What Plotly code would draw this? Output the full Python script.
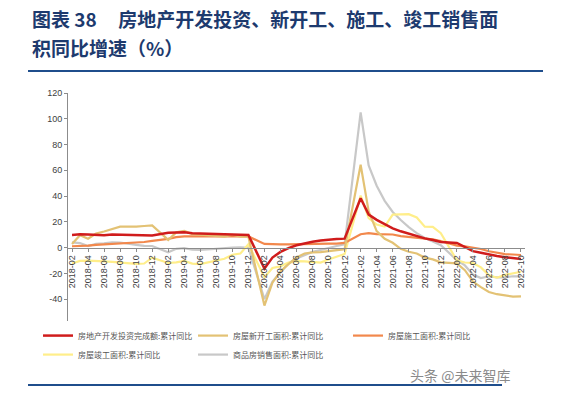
import plotly.graph_objects as go

months = []
for yr in [2018, 2019, 2020, 2021, 2022]:
    first = 2 if yr == 2018 else 1
    last = 10 if yr == 2022 else 12
    for m in range(first, last + 1):
        months.append(f"{yr}-{m:02d}")

N = None  # January: no cumulative figure published
invest = [9.9, 10.4, 10.3, 10.2, 9.7, 10.2, 10.1, 9.9, 9.7, 9.7, 9.5,
          N, 11.6, 11.8, 11.9, 11.2, 10.9, 10.6, 10.5, 10.5, 10.3, 10.2, 9.9,
          N, -16.3, -7.7, -3.3, -0.3, 1.9, 3.4, 4.6, 5.6, 6.3, 6.8, 7.0,
          N, 38.3, 25.6, 21.6, 18.3, 15.0, 12.7, 10.9, 8.8, 7.2, 6.0, 4.4,
          N, 3.7, 0.7, -2.7, -4.0, -5.4, -6.4, -7.4, -8.0, -8.8]
new_start = [2.9, 9.7, 7.0, 11.0, 12.5, 14.4, 16.3, 16.4, 16.3, 16.8, 17.2,
             N, 6.0, 11.9, 13.1, 10.5, 10.1, 9.5, 8.9, 8.6, 10.0, 8.6, 8.5,
             N, -44.9, -27.2, -18.4, -12.8, -7.6, -4.5, -3.6, -3.4, -2.6, -2.0, -1.2,
             N, 64.3, 28.2, 12.8, 6.9, 3.8, -0.9, -3.2, -4.5, -7.7, -9.1, -11.4,
             N, -12.2, -17.5, -26.3, -30.6, -34.4, -36.1, -37.2, -38.0, -37.8]
under_constr = [1.1, 1.2, 1.6, 2.2, 2.6, 2.9, 3.3, 3.4, 3.9, 4.4, 5.2,
                N, 6.8, 8.2, 8.8, 8.8, 8.8, 9.0, 8.8, 8.7, 9.0, 8.7, 8.7,
                N, 2.9, 2.6, 2.5, 2.6, 2.6, 2.8, 3.1, 3.1, 3.1, 3.2, 3.7,
                N, 10.4, 11.2, 10.5, 10.1, 10.2, 9.0, 8.4, 7.9, 7.1, 6.4, 5.2,
                N, 1.6, 1.0, -0.1, -1.0, -2.8, -3.7, -5.0, -5.3, -5.7]
completed = [-12.3, -10.3, -10.1, -10.1, -10.6, -11.0, -11.6, -12.3, -12.5, -12.3, -7.8,
             N, -11.9, -11.4, -10.3, -12.4, -12.7, -11.3, -10.0, -8.6, -5.5, -4.5, 2.6,
             N, -22.9, -15.8, -14.5, -11.6, -10.5, -10.6, -11.2, -11.6, -9.2, -7.3, -4.9,
             N, 40.4, 22.9, 17.9, 16.4, 25.7, 25.7, 26.0, 23.4, 16.3, 16.2, 11.2,
             N, -9.8, -11.5, -11.9, -15.3, -21.5, -23.3, -21.1, -19.9, -18.7]
sales = [4.1, 3.6, 1.3, 2.9, 3.3, 4.2, 4.0, 2.9, 2.2, 1.4, 1.3,
         N, -3.6, -0.9, -0.3, -1.6, -1.8, -1.3, -0.6, -0.1, 0.1, 0.2, -0.1,
         N, -39.9, -26.3, -19.3, -12.3, -8.4, -5.8, -3.3, -1.8, 0.0, 1.3, 2.6,
         N, 104.9, 63.8, 48.1, 36.3, 27.7, 21.5, 15.9, 11.3, 7.5, 4.8, 1.9,
         N, -9.6, -13.8, -20.9, -23.6, -22.2, -23.1, -23.0, -22.2, -22.3]

series_names = ["房地产开发投资完成额:累计同比", "房屋新开工面积:累计同比", "房屋施工面积:累计同比",
                "房屋竣工面积:累计同比", "商品房销售面积:累计同比"]
x_tick_labels = months[::2]
y_ticks = [-60, -40, -20, 0, 20, 40, 60, 80, 100, 120]

colors = ["#d01c1c", "#e3c274", "#f2884c", "#ffee8a", "#c8c8c8"]
widths = [2.5, 2.2, 2.2, 2.2, 2.2]
data = [invest, new_start, under_constr, completed, sales]

fig = go.Figure()
for i in [4, 3, 2, 1, 0]:  # red drawn last (on top)
    fig.add_trace(go.Scatter(x=months, y=data[i], mode="lines", name=series_names[i],
                             connectgaps=True, legendrank=i + 1,
                             line=dict(color=colors[i], width=widths[i])))

fig.update_layout(
    width=558, height=385, autosize=False,
    margin=dict(l=60, r=41, t=85, b=68),
    paper_bgcolor="white", plot_bgcolor="white",
    showlegend=True,
    legend=dict(orientation="h", x=-0.0656, y=-0.19, xanchor="left", yanchor="bottom",
                entrywidth=110, entrywidthmode="pixels", itemwidth=30,
                font=dict(family="Noto Sans CJK SC", size=8, color="#555555"),
                traceorder="normal", tracegroupgap=0),
    xaxis=dict(type="category", categoryorder="array", categoryarray=months,
               range=[-0.5, len(months) - 0.5],
               tickvals=x_tick_labels, ticktext=x_tick_labels, tickangle=-90,
               anchor="free", position=1/3,
               showline=True, linecolor="#8c8c8c", linewidth=1,
               ticks="outside", ticklen=3, tickcolor="#8c8c8c",
               showgrid=False, zeroline=False, automargin=False,
               tickfont=dict(family="Liberation Sans", size=9, color="#404040")),
    yaxis=dict(range=[-60, 120], tickvals=y_ticks, ticktext=[str(v) for v in y_ticks],
               showline=True, linecolor="#8c8c8c", linewidth=1,
               ticks="outside", ticklen=3, tickcolor="#8c8c8c",
               showgrid=False, zeroline=False, automargin=False,
               tickfont=dict(family="Liberation Sans", size=9, color="#404040")),
)

title_font = dict(family="Noto Sans CJK SC", size=19, color="#1d3a6e")
fig.add_annotation(text="<b>图表 38\u00a0\u00a0\u00a0\u00a0\u00a0房地产开发投资、新开工、施工、竣工销售面</b>",
                   xref="paper", yref="paper", x=-0.083, y=1.323, xanchor="left", yanchor="middle",
                   showarrow=False, font=title_font)
fig.add_annotation(text="<b>积同比增速（%）</b>",
                   xref="paper", yref="paper", x=-0.083, y=1.198, xanchor="left", yanchor="middle",
                   showarrow=False, font=title_font)
fig.add_annotation(text="头条 @未来智库", xref="paper", yref="paper", x=0.9716, y=-0.2155,
                   xanchor="right", yanchor="middle", showarrow=False,
                   font=dict(family="Noto Sans CJK SC", size=14, color="#8a8a8a"))

fig.add_shape(type="line", xref="paper", yref="paper", x0=-0.0875, x1=1.0394, y0=1.0948, y1=1.0948,
              line=dict(color="#1f4e8c", width=2))
fig.add_shape(type="line", xref="paper", yref="paper", x0=-0.0875, x1=0.9497, y0=-0.2586, y1=-0.2586,
              line=dict(color="#1f4e8c", width=2))

fig.write_html("out.html")
